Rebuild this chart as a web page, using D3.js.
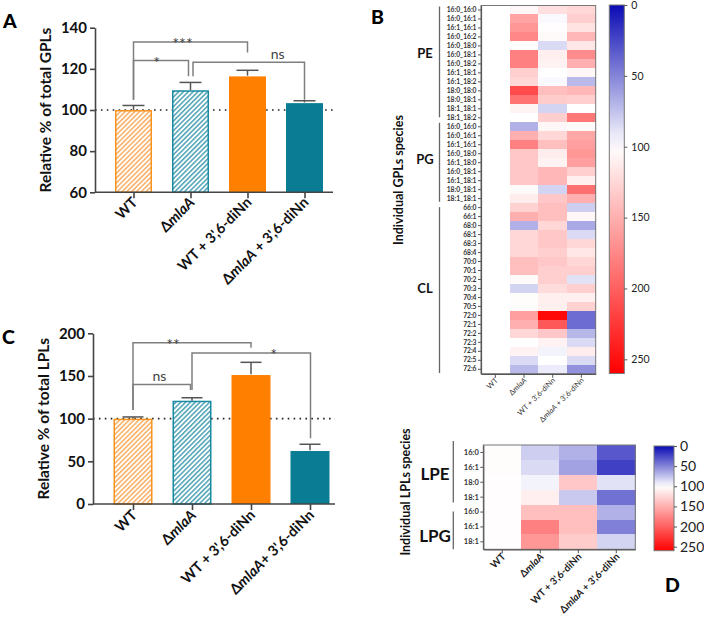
<!DOCTYPE html>
<html><head><meta charset="utf-8">
<script src="https://cdn.jsdelivr.net/npm/d3@7"></script>
<style>body{margin:0;background:#fff}svg{display:block}text{font-family:Lato,"Open Sans","DejaVu Sans",sans-serif}</style>
</head><body><svg id="c" width="704" height="626"></svg>
<script>
// ---------------- DATA ----------------
const barGroupsA = ["WT", "Δ|mlaA", "WT + 3',6-diNn", "Δ|mlaA| + 3',6-diNn"];
const barGroupsC = ["WT", "Δ|mlaA", "WT + 3',6-diNn", "Δ|mlaA|+ 3',6-diNn"];
const gplMean = [100, 109.6, 116.7, 103.7];
const gplErrTop = [102.2, 113.4, 119.3, 104.5];
const gplTicks = [60, 80, 100, 120, 140];
const lplMean = [100, 121, 152, 63];
const lplErrTop = [102, 124.5, 166, 70];
const lplTicks = [0, 50, 100, 150, 200];
// significance brackets: [leftGroup, rightGroup, topValue, leftLegEnd, rightLegEnd, label]
const gplSig = [[0, 2, 133, 105, 128, "***"], [0, 1, 124, 105, 116.4, "*"], [1, 3, 123.2, 116.4, 105, "ns"]];
const lplSig = [[0, 2, 189, 110, 183, "**"], [0, 1, 140, 110, 133.6, "ns"], [1, 3, 177, 133.6, 77, "*"]];

const heatCols = ["WT", "Δ|mlaA", "WT + 3',6-diNn", "Δ|mlaA| + 3',6-diNn"];
const gplSpecies = ["16:0_16:0","16:0_16:1","16:1_16:1","16:0_16:2","16:0_18:0","16:0_18:1","16:0_18:2","16:1_18:1","16:1_18:2","18:0_18:0","18:0_18:1","18:1_18:1","18:1_18:2",
  "16:0_16:0","16:0_16:1","16:1_16:1","16:0_18:0","16:1_18:0","16:0_18:1","16:1_18:1","18:0_18:1","18:1_18:1",
  "66:0","66:1","68:0","68:1","68:3","68:4","70:0","70:1","70:2","70:3","70:4","70:5","72:0","72:1","72:2","72:3","72:4","72:5","72:6"];
const gplClasses = ["PE", "PG", "CL"];
const gplClassSizes = [13, 9, 19];
const gplWT = [100,100,100,100,100,100,100,100,100,100,100,100,100, 100,100,100,100,100,100,100,100,100, 100,100,100,100,100,100,100,100,100,100,100,100,100,100,100,100,100,100,100];
const gplDmla = [105,158,165,175,102,180,180,130,125,213,188,107,100, 68,150,180,135,135,135,135,103,112, 128,150,68,125,125,125,140,140,103,82,102,102,160,150,125,100,108,85,72];
const gplWtDin = [120,98,101,103,85,110,108,100,98,140,132,82,130, 105,125,140,112,108,145,145,82,135, 140,140,125,135,135,130,135,130,130,122,110,110,255,205,135,108,95,100,92];
const gplDmlaDin = [125,130,118,145,115,172,150,105,72,145,130,100,185, 103,155,160,165,160,130,110,190,150, 80,105,65,85,125,115,125,130,88,130,110,128,40,40,70,85,112,85,55];

const lplSpecies = ["16:0","16:1","18:0","18:1","16:0","16:1","18:1"];
const lplClasses = ["LPE", "LPG"];
const lplClassSizes = [4, 3];
const lplWT = [102,102,101,101,101,101,101];
const lplDmla = [80,85,95,110,140,180,165];
const lplWtDin = [68,62,135,78,140,140,132];
const lplDmlaDin = [32,22,88,42,68,48,82];

const cbTicks = [0, 50, 100, 150, 200, 250];

// ---------------- DRAW ----------------
const svg = d3.select("#c");
const defs = svg.append("defs");
const ORANGE = "#ff8000", TEAL = "#0a7d94";

function hatch(id, color) {
  const p = defs.append("pattern").attr("id", id).attr("patternUnits", "userSpaceOnUse")
    .attr("width", 3.4).attr("height", 3.4).attr("patternTransform", "rotate(45)");
  p.append("rect").attr("width", 3.4).attr("height", 3.4).attr("fill", "#fff");
  p.append("line").attr("x1", 0.8).attr("y1", 0).attr("x2", 0.8).attr("y2", 3.4).attr("stroke", color).attr("stroke-width", 1.3);
}
hatch("hO", "#f8a048");
hatch("hT", "#2f93a8");
const fills = ["url(#hO)", "url(#hT)", ORANGE, TEAL];
const strokes = ["#f7931e", "#1a8aa0", "none", "none"];

function rich(sel, str) {
  str.split("|").forEach((p, i) => { if (p) sel.append("tspan").attr("font-style", i % 2 ? "italic" : "normal").text(p); });
}

function barPanel(c) {
  const g = svg.append("g");
  const x = d3.scalePoint().domain(d3.range(4)).range([c.x0, c.x1]);
  const y = d3.scaleLinear().domain(c.domain).range([c.yB, c.yT]);
  g.append("line").attr("x1", c.ax).attr("x2", c.axEnd).attr("y1", y(100)).attr("y2", y(100))
    .attr("stroke", "#222").attr("stroke-width", 1.6).attr("stroke-dasharray", "1.6,4.3");
  const eb = g.append("g").attr("stroke", "#555").attr("stroke-width", 1.5);
  eb.selectAll("line.v").data(c.mean).join("line").attr("x1", (d, i) => x(i)).attr("x2", (d, i) => x(i))
    .attr("y1", d => y(d)).attr("y2", (d, i) => y(c.err[i]));
  eb.selectAll("line.h").data(c.err).join("line").attr("x1", (d, i) => x(i) - c.cap / 2).attr("x2", (d, i) => x(i) + c.cap / 2)
    .attr("y1", d => y(d)).attr("y2", d => y(d));
  g.selectAll("rect.bar").data(c.mean).join("rect")
    .attr("x", (d, i) => x(i) - c.bw / 2 + (strokes[i] !== "none" ? 0.75 : 0))
    .attr("width", (d, i) => c.bw - (strokes[i] !== "none" ? 1.5 : 0))
    .attr("y", d => y(d) + 0.75)
    .attr("height", d => y(c.domain[0]) - y(d) - 0.75)
    .attr("fill", (d, i) => fills[i]).attr("stroke", (d, i) => strokes[i]).attr("stroke-width", 1.5);
  const ya = g.append("g").attr("transform", `translate(${c.ax},0)`)
    .call(d3.axisLeft(y).tickValues(c.ticks).tickSize(5).tickSizeOuter(0).tickPadding(3));
  ya.select(".domain").attr("stroke", "#444").attr("stroke-width", 1.6);
  ya.selectAll(".tick line").attr("stroke", "#444").attr("stroke-width", 1.6);
  ya.selectAll(".tick text").attr("font-size", 15).attr("font-weight", "bold").attr("fill", "#111")
    .attr("font-family", "Lato, sans-serif");
  const xa = g.append("g").attr("transform", `translate(0,${c.yB})`)
    .call(d3.axisBottom(x).tickSize(6).tickFormat(""));
  xa.select(".domain").remove();
  xa.selectAll(".tick line").attr("stroke", "#444").attr("stroke-width", 1.6);
  g.append("line").attr("x1", c.ax).attr("x2", c.axEnd).attr("y1", c.yB).attr("y2", c.yB)
    .attr("stroke", "#444").attr("stroke-width", 1.6);
  g.selectAll("text.xl").data(c.labels).join("text")
    .attr("transform", (d, i) => `translate(${x(i) + c.lx},${c.yB + c.ly}) rotate(-45)`)
    .attr("text-anchor", "end").attr("font-size", 14.5).attr("font-weight", "bold").attr("fill", "#111")
    .each(function (d) { rich(d3.select(this), d); });
  const bg = g.append("g");
  c.sig.forEach((s, k) => {
    const xa1 = x(s[0]) + c.legOff[k][0], xa2 = x(s[1]) + c.legOff[k][1];
    bg.append("path").attr("d", `M${xa1},${y(s[3])}V${y(s[2])}H${xa2}V${y(s[4])}`)
      .attr("fill", "none").attr("stroke", "#7f7f7f").attr("stroke-width", 1.5);
    const tx = xa1 + (xa2 - xa1) * c.labT[k];
    bg.append("text").attr("x", tx).attr("y", y(s[2]) + (s[5] === "ns" ? -3.5 : 7)).attr("text-anchor", "middle")
      .attr("font-size", s[5] === "ns" ? 14 : 16).attr("fill", "#444").text(s[5]);
  });
  g.append("text").attr("transform", `translate(${c.ylx},${(c.yB + c.yT) / 2}) rotate(-90)`)
    .attr("text-anchor", "middle").attr("font-size", 15.5).attr("font-weight", "bold").attr("fill", "#111").text(c.ylabel);
}

barPanel({x0: 133.5, x1: 304.5, ax: 95, axEnd: 333, yB: 192.3, yT: 27.7, domain: [60, 140], ticks: gplTicks,
  mean: gplMean, err: gplErrTop, bw: 37, cap: 22, labels: barGroupsA, lx: 5, ly: 11,
  sig: gplSig, legOff: [[0, 0], [0, -2], [2.5, 0]], labT: [0.43, 0.42, 0.76], ylx: 51, ylabel: "Relative % of total GPLs"});
barPanel({x0: 133, x1: 310, ax: 93, axEnd: 335, yB: 504, yT: 333.3, domain: [0, 200], ticks: lplTicks,
  mean: lplMean, err: lplErrTop, bw: 39, cap: 21, labels: barGroupsC, lx: 5, ly: 12,
  sig: lplSig, legOff: [[0, 0], [0, -1.5], [0, 0.5]], labT: [0.34, 0.46, 0.69], ylx: 49, ylabel: "Relative % of total LPLs"});

// ---------------- HEATMAPS ----------------
const color = d3.scaleLinear().domain([0, 100, 260]).range(["#0a0ab4", "#ffffff", "#ff0000"]).clamp(true);

function heatmap(c) {
  const g = svg.append("g");
  const x = d3.scaleBand().domain(d3.range(4)).range([c.x0, c.x1]);
  const y = d3.scaleBand().domain(d3.range(c.species.length)).range([c.y0, c.y1]);
  const cells = [];
  c.series.forEach((s, ci) => s.forEach((v, ri) => cells.push({ci, ri, v})));
  g.selectAll("rect.cell").data(cells).join("rect")
    .attr("x", d => x(d.ci)).attr("y", d => y(d.ri))
    .attr("width", x.bandwidth() + 0.4).attr("height", y.bandwidth() + 0.4)
    .attr("fill", d => color(d.v)).attr("shape-rendering", "crispEdges");
  g.append("rect").attr("x", c.x0).attr("y", c.y0).attr("width", c.x1 - c.x0).attr("height", c.y1 - c.y0)
    .attr("fill", "none").attr("stroke", "#777").attr("stroke-width", 1);
  const ya = g.append("g").attr("transform", `translate(${c.x0},0)`)
    .call(d3.axisLeft(y).tickSize(3).tickSizeOuter(0).tickPadding(1.5).tickFormat(i => c.species[i]));
  ya.select(".domain").attr("stroke", "#555").attr("stroke-width", 1.2);
  ya.selectAll(".tick line").attr("stroke", "#555");
  ya.selectAll(".tick text").attr("font-size", c.rowFs).attr("font-weight", "bold").attr("fill", "#333")
    .attr("font-family", "Lato, sans-serif");
  const xa = g.append("g").attr("transform", `translate(0,${c.y1})`)
    .call(d3.axisBottom(x).tickSize(4).tickSizeOuter(0).tickFormat(""));
  xa.select(".domain").attr("stroke", "#555").attr("stroke-width", 1.2);
  xa.selectAll(".tick line").attr("stroke", "#555");
  g.selectAll("text.xl").data(c.cols).join("text")
    .attr("transform", (d, i) => `translate(${x(i) + x.bandwidth() / 2 + c.lx},${c.y1 + c.ly}) rotate(-45)`)
    .attr("text-anchor", "end").attr("font-size", c.colFs).attr("font-weight", c.colW).attr("fill", c.colFill)
    .each(function (d) { rich(d3.select(this), d); });
  let start = 0;
  c.classes.forEach((name, k) => {
    const n = c.sizes[k];
    const ya0 = y(start), ya1 = y(start + n - 1) + y.bandwidth();
    g.append("line").attr("x1", c.gx).attr("x2", c.gx).attr("y1", ya0 + c.gap[k][0]).attr("y2", ya1 - c.gap[k][1])
      .attr("stroke", "#666").attr("stroke-width", 1.3);
    g.append("text").attr("x", c.glx).attr("y", (ya0 + ya1) / 2 + c.gdy[k]).attr("dy", "0.35em")
      .attr("text-anchor", "middle").attr("font-size", c.gFs).attr("font-weight", "bold").attr("fill", "#111").text(name);
    start += n;
  });
  g.append("text").attr("transform", `translate(${c.ylx},${c.yly}) rotate(-90)`)
    .attr("text-anchor", "middle").attr("font-size", 12.5).attr("font-weight", "bold").attr("fill", "#111").text(c.ylabel);
  const gid = "grad" + c.id;
  const grad = defs.append("linearGradient").attr("id", gid).attr("x1", 0).attr("y1", 0).attr("x2", 0).attr("y2", 1);
  d3.range(0, 1.0001, 0.05).forEach(t => grad.append("stop").attr("offset", t).attr("stop-color", color(t * 260)));
  const cs = d3.scaleLinear().domain([0, 260]).range([c.cb[2], c.cb[3]]);
  g.append("rect").attr("x", c.cb[0]).attr("y", c.cb[2]).attr("width", c.cb[1] - c.cb[0]).attr("height", c.cb[3] - c.cb[2])
    .attr("fill", `url(#${gid})`).attr("stroke", "#777").attr("stroke-width", 1);
  const ca = g.append("g").attr("transform", `translate(${c.cb[1]},0)`)
    .call(d3.axisRight(cs).tickValues(cbTicks).tickSize(3).tickPadding(c.cbPad));
  ca.select(".domain").remove();
  ca.selectAll(".tick line").attr("stroke", "#555");
  ca.selectAll(".tick text").attr("font-size", c.cbFs).attr("fill", "#222").attr("font-family", "Lato, sans-serif");
}

heatmap({id: "B", x0: 481, x1: 595.7, y0: 5.5, y1: 373.8, species: gplSpecies,
  series: [gplWT, gplDmla, gplWtDin, gplDmlaDin], cols: heatCols, rowFs: 6.7, colFs: 7.5, colW: "normal", colFill: "#333",
  lx: 3, ly: 7, classes: gplClasses, sizes: gplClassSizes, gx: 439.5, gap: [[1, 5], [0.5, 1.3], [4, 0.8]], gdy: [-10, -3, 0],
  glx: 425, gFs: 13, ylx: 403, yly: 180, ylabel: "Individual GPLs species", cb: [609.3, 624.3, 5, 373.5], cbPad: 4, cbFs: 10.5});
heatmap({id: "D", x0: 483.3, x1: 635.3, y0: 445, y1: 549.3, species: lplSpecies,
  series: [lplWT, lplDmla, lplWtDin, lplDmlaDin], cols: heatCols, rowFs: 7.5, colFs: 10, colW: "bold", colFill: "#222",
  lx: 4, ly: 8, classes: lplClasses, sizes: lplClassSizes, gx: 453.3, gap: [[-4, 2], [7, 0]], gdy: [-1, 9],
  glx: 435, gFs: 17, ylx: 410, yly: 492, ylabel: "Individual LPLs species", cb: [654, 674, 446, 550.7], cbPad: 3, cbFs: 14});

[["A", 3, 28], ["B", 371, 24], ["C", 2, 344], ["D", 665, 592]].forEach(d => {
  svg.append("text").attr("x", d[1]).attr("y", d[2]).attr("font-size", 19.5).attr("font-weight", "900")
    .attr("fill", "#000").text(d[0]);
});
</script></body></html>
